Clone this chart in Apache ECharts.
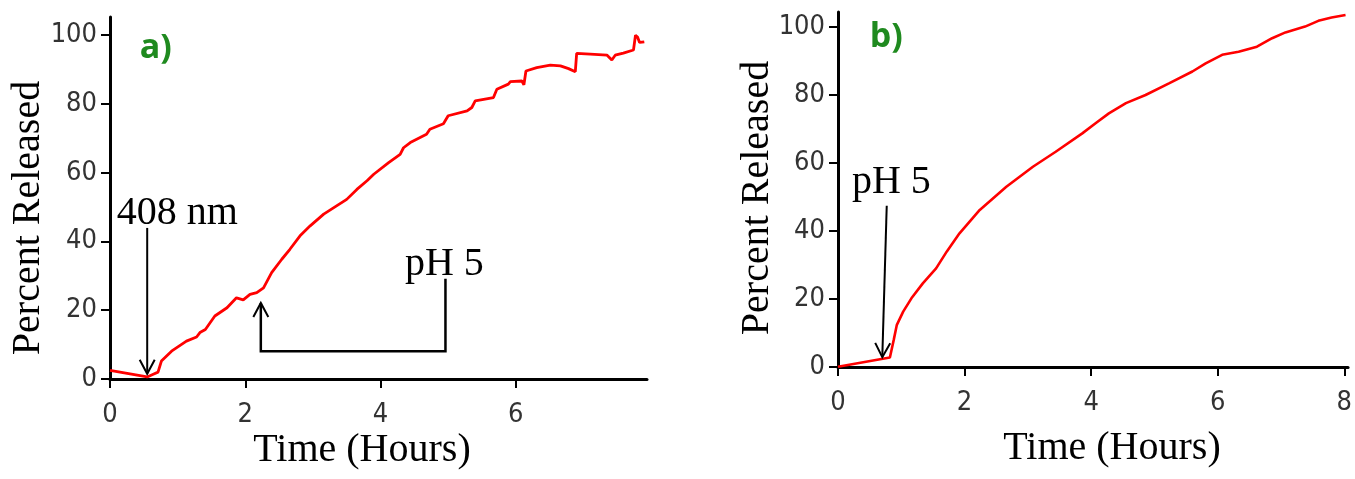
<!DOCTYPE html>
<html><head><meta charset="utf-8">
<script src="https://cdn.jsdelivr.net/npm/echarts@6/dist/echarts.min.js"></script>
<style>html,body{margin:0;padding:0;background:#fff}#c{width:1355px;height:479px}</style>
</head><body><div id="c"></div>
<script>
// ---- Panel a) data (hours, percent released) ----
const timeA = [0, 0.55, 0.64, 0.71, 0.76, 0.91, 1.13, 1.28, 1.33, 1.41, 1.55, 1.73, 1.87, 1.97, 2.07, 2.17, 2.27, 2.39, 2.54, 2.66, 2.81, 2.96, 3.16, 3.35, 3.50, 3.65, 3.80, 3.90, 4.12, 4.29, 4.34, 4.44, 4.68, 4.73, 4.93, 5.00, 5.28, 5.35, 5.40, 5.67, 5.72, 5.89, 5.92, 6.09, 6.12, 6.15, 6.31, 6.51, 6.66, 6.78, 6.88, 6.90, 7.10, 7.35, 7.42, 7.47, 7.59, 7.74, 7.77, 7.80, 7.83, 7.90];
const releaseA = [2.5, 0.6, 1.4, 2.0, 5.2, 8.1, 11.0, 12.2, 13.5, 14.4, 18.3, 20.7, 23.6, 23.0, 24.6, 25.1, 26.5, 30.9, 34.8, 37.7, 41.6, 44.5, 47.9, 50.3, 52.2, 55.1, 57.6, 59.5, 62.9, 65.3, 67.2, 68.7, 71.1, 72.6, 74.2, 76.5, 77.9, 78.9, 80.8, 81.8, 84.2, 85.7, 86.4, 86.6, 85.5, 89.5, 90.5, 91.2, 91.0, 90.2, 89.3, 94.6, 94.4, 94.1, 92.7, 94.1, 94.7, 95.6, 99.9, 99.4, 97.8, 98.0];
// ---- Panel b) data ----
const timeB = [0, 0.82, 0.85, 0.88, 0.93, 1.03, 1.16, 1.34, 1.55, 1.72, 1.92, 2.24, 2.66, 3.08, 3.44, 3.86, 4.07, 4.28, 4.55, 4.86, 5.23, 5.60, 5.81, 6.07, 6.33, 6.62, 6.86, 7.07, 7.38, 7.59, 7.80, 8.02];
const releaseB = [0.1, 2.8, 2.4, 7.9, 12.4, 16.3, 20.2, 24.6, 29.0, 34.0, 39.3, 46.2, 53.0, 58.9, 63.3, 68.7, 71.7, 74.6, 77.6, 80.0, 83.4, 86.9, 89.3, 91.8, 92.7, 94.2, 96.7, 98.4, 100.1, 101.8, 102.8, 103.5];
// ---- tick labels ----
const yTicks = [0, 20, 40, 60, 80, 100];
const xTicksA = [0, 2, 4, 6];
const xTicksB = [0, 2, 4, 6, 8];
const panelLabels = ['a)', 'b)'];
const xTitle = 'Time (Hours)';
const yTitle = 'Percent Released';

const chart = echarts.init(document.getElementById('c'), null, {renderer: 'canvas'});
const SERIF = '"Liberation Serif", "Times New Roman", serif';
const TICKFONT = '"Liberation Sans Narrow", "DejaVu Sans Condensed", "DejaVu Sans", sans-serif';

function xAx(gi, max, ticks) {
  return {
    type: 'value', gridIndex: gi, min: 0, max: max, interval: 2,
    axisLine: {show: true, onZero: false, lineStyle: {color: '#000', width: 3}},
    axisTick: {show: true, length: 9, customValues: ticks, lineStyle: {color: '#000', width: 2}},
    axisLabel: {customValues: ticks, margin: 22, fontFamily: TICKFONT, fontSize: 27, color: '#333',
      formatter: v => (ticks.indexOf(v) >= 0 ? String(v) : '')},
    splitLine: {show: false}
  };
}
function yAx(gi, max) {
  return {
    type: 'value', gridIndex: gi, min: 0, max: max, interval: 20,
    axisLine: {show: true, onZero: false, lineStyle: {color: '#000', width: 3}},
    axisTick: {show: true, length: 9, customValues: yTicks, lineStyle: {color: '#000', width: 2}},
    axisLabel: {customValues: yTicks, margin: 13, fontFamily: TICKFONT, fontSize: 27, color: '#333',
      formatter: v => (yTicks.indexOf(v) >= 0 ? String(v) : '')},
    splitLine: {show: false}
  };
}

chart.setOption({
  animation: false,
  backgroundColor: '#fff',
  grid: [
    {left: 110, top: 17, width: 537, height: 362},
    {left: 838, top: 12, width: 512, height: 355}
  ],
  xAxis: [xAx(0, 7.94, xTicksA), xAx(1, 8.06, xTicksB)],
  yAxis: [yAx(0, 105.2), yAx(1, 104.4)],
  series: [
    {type: 'line', xAxisIndex: 0, yAxisIndex: 0, showSymbol: false, z: 5,
     lineStyle: {color: '#ff0000', width: 2.8}, data: timeA.map((t, i) => [t, releaseA[i]])},
    {type: 'line', xAxisIndex: 1, yAxisIndex: 1, showSymbol: false, z: 5,
     lineStyle: {color: '#ff0000', width: 2.6}, data: timeB.map((t, i) => [t, releaseB[i]])}
  ]
});

function P(gi, t, v) { return chart.convertToPixel({gridIndex: gi}, [t, v]); }
function head(p0, p1) {
  const dx = p1[0] - p0[0], dy = p1[1] - p0[1], L = Math.hypot(dx, dy);
  const ux = dx / L, uy = dy / L, nx = -uy, ny = ux, back = 14, half = 7.5;
  return [[p1[0] - ux * back + nx * half, p1[1] - uy * back + ny * half], p1,
          [p1[0] - ux * back - nx * half, p1[1] - uy * back - ny * half]];
}
function line(points, w) {
  return {type: 'polyline', z: 20, shape: {points: points}, style: {stroke: '#000', lineWidth: w, fill: null}};
}
function txt(p, text, font, fill, align) {
  return {type: 'text', z: 20, x: p[0], y: p[1],
    style: {text: text, font: font, fill: fill, textAlign: align || 'left', textVerticalAlign: 'middle'}};
}

const g = [];
// panel labels
g.push(txt(P(0, 0.44, 96.0), panelLabels[0], 'bold 34px "Open Sans", sans-serif', '#1f8a1f'));
g.push(txt(P(1, 0.50, 97.0), panelLabels[1], 'bold 34px "Open Sans", sans-serif', '#1f8a1f'));
// axis titles
g.push(txt([362, 450], xTitle, '40px ' + SERIF, '#000', 'center'));
g.push(txt([1112, 448], xTitle, '40px ' + SERIF, '#000', 'center'));
g.push(Object.assign(txt([28, 218], yTitle, '40px ' + SERIF, '#000', 'center'), {rotation: Math.PI / 2}));
g.push(Object.assign(txt([757, 198], yTitle, '40px ' + SERIF, '#000', 'center'), {rotation: Math.PI / 2}));
// panel a annotations
g.push(txt(P(0, 0.10, 48.1), '408 nm', '40px ' + SERIF, '#000'));
let a0 = P(0, 0.55, 43.9), a1 = P(0, 0.55, 1.5);
g.push(line([a0, a1], 2)); g.push(line(head(a0, a1), 2));
g.push(txt(P(0, 4.36, 33.3), 'pH 5', '40px ' + SERIF, '#000'));
const br = [P(0, 4.96, 29.1), P(0, 4.96, 8.1), P(0, 2.23, 8.1), P(0, 2.23, 22.1)];
g.push(line(br, 2.5)); g.push(line(head(br[2], br[3]), 2));
// panel b annotations
g.push(txt(P(1, 0.22, 54.4), 'pH 5', '40px ' + SERIF, '#000'));
let b0 = P(1, 0.77, 47.4), b1 = P(1, 0.70, 2.9);
g.push(line([b0, b1], 2)); g.push(line(head(b0, b1), 2));

chart.setOption({graphic: g});
</script>
</body></html>
